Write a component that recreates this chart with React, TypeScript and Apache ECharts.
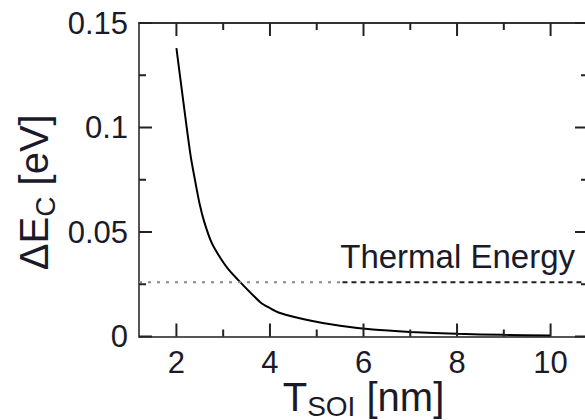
import React, { useEffect, useRef } from "react";
import * as echarts from "echarts";

const xMin = 1.2;
const xMax = 10.8;
const yMin = 0;
const yMax = 0.15;
const majorXTicks = [2, 4, 6, 8, 10];
const minorXTicks = [3, 5, 7, 9];
const majorYTicks = [0, 0.05, 0.1, 0.15];
const minorYTicks = [0.025, 0.075, 0.125];
const tsoi = [2.0, 2.15, 2.3, 2.4, 2.5, 2.6, 2.75, 2.9, 3.1, 3.4, 3.8, 4.0, 4.2, 4.8, 5.5, 6.2, 7.0, 8.0, 9.0, 10.0];
const deltaEc = [0.138, 0.112, 0.087, 0.0745, 0.063, 0.0545, 0.045, 0.039, 0.0325, 0.0252, 0.0163, 0.0136, 0.0114, 0.0079, 0.0051, 0.0033, 0.0022, 0.0013, 0.0008, 0.0005];
const thermalEnergy = 0.026;
const thermalSplitX = 5.55;
const thermalLabel = "Thermal Energy";

const FONT = "Liberation Sans, Arial, sans-serif";
const AXIS_COLOR = "#555";
const TICK_COLOR = "#222";
const TEXT_COLOR = "#1a1a2a";

export default function App() {
  const ref = useRef<HTMLDivElement>(null);
  useEffect(() => {
    if (!ref.current) return;
    const chart = echarts.init(ref.current, undefined, { renderer: "svg" });
    const yBase = (position: string, showLabel: boolean) => ({
      type: "value",
      min: yMin,
      max: yMax,
      interval: 0.05,
      position,
      splitLine: { show: false },
      axisLine: { show: true, onZero: false, lineStyle: { color: AXIS_COLOR, width: 2 } },
      axisTick: { show: false },
      axisLabel: showLabel
        ? { show: true, margin: 11, fontSize: 31, fontFamily: FONT, color: TEXT_COLOR }
        : { show: false },
    });
    const style = { stroke: TICK_COLOR, lineWidth: 2 };
    const xTickSeries = (values: number[], len: number) => ({
      type: "custom",
      xAxisIndex: 0,
      yAxisIndex: 0,
      clip: false,
      silent: true,
      z: 10,
      data: values.map((v) => [v, yMin]),
      renderItem: (_params: any, api: any) => {
        const v = api.value(0);
        const b = api.coord([v, yMin]);
        const t = api.coord([v, yMax]);
        return {
          type: "group",
          children: [
            { type: "line", shape: { x1: b[0], y1: b[1], x2: b[0], y2: b[1] - len }, style },
            { type: "line", shape: { x1: t[0], y1: t[1], x2: t[0], y2: t[1] + len }, style },
          ],
        };
      },
    });
    const yTickSeries = (values: number[], len: number) => ({
      type: "custom",
      xAxisIndex: 0,
      yAxisIndex: 0,
      clip: false,
      silent: true,
      z: 10,
      data: values.map((v) => [xMin, v]),
      renderItem: (_params: any, api: any) => {
        const v = api.value(1);
        const l = api.coord([xMin, v]);
        const r = api.coord([xMax, v]);
        return {
          type: "group",
          children: [
            { type: "line", shape: { x1: l[0], y1: l[1], x2: l[0] + len, y2: l[1] }, style },
            { type: "line", shape: { x1: r[0], y1: r[1], x2: r[0] - len, y2: r[1] }, style },
          ],
        };
      },
    });
    const option: any = {
      animation: false,
      grid: { left: 139, top: 23, width: 449, height: 313.5, outerBoundsMode: "none", containLabel: false },
      xAxis: [
        {
          type: "value",
          min: xMin,
          max: xMax,
          position: "bottom",
          splitLine: { show: false },
          axisLine: { show: true, onZero: false, lineStyle: { color: AXIS_COLOR, width: 2 } },
          axisTick: { show: false },
          axisLabel: { show: true, customValues: majorXTicks, margin: 10, fontSize: 31, fontFamily: FONT, color: TEXT_COLOR },
          name: "T{sub|SOI} [nm]",
          nameLocation: "middle",
          nameGap: 36,
          nameMoveOverlap: false,
          nameTextStyle: {
            fontSize: 40,
            fontFamily: FONT,
            color: TEXT_COLOR,
            verticalAlign: "top",
            rich: {
              sub: { fontSize: 28, fontFamily: FONT, color: TEXT_COLOR, padding: [20, 0, 0, 0] },
            },
          },
        },
        {
          type: "value",
          min: xMin,
          max: xMax,
          position: "top",
          splitLine: { show: false },
          axisLine: { show: true, onZero: false, lineStyle: { color: "#333", width: 2 } },
          axisTick: { show: false },
          axisLabel: { show: false },
        },
      ],
      yAxis: [
        {
          ...yBase("left", true),
          name: "ΔE{sub|C} [eV]",
          nameLocation: "middle",
          nameGap: 80,
          nameMoveOverlap: false,
          nameTextStyle: {
            fontSize: 40,
            fontFamily: FONT,
            color: TEXT_COLOR,
            padding: [0, 25, 0, 0],
            rich: {
              sub: { fontSize: 28, fontFamily: FONT, color: TEXT_COLOR, padding: [22, 0, 0, 0] },
            },
          },
        },
        yBase("right", false),
      ],
      series: [
        {
          type: "line",
          data: tsoi.map((t, i) => [t, deltaEc[i]]),
          smooth: 0.3,
          showSymbol: false,
          lineStyle: { color: "#000", width: 2 },
        },
        {
          type: "line",
          data: [[xMin, thermalEnergy], [thermalSplitX, thermalEnergy]],
          showSymbol: false,
          lineStyle: { color: "#888", width: 2, type: [3, 6] },
        },
        {
          type: "line",
          data: [[thermalSplitX, thermalEnergy], [xMax, thermalEnergy]],
          showSymbol: false,
          lineStyle: { color: "#222", width: 2, type: [5, 4] },
        },
        xTickSeries(majorXTicks, 13),
        xTickSeries(minorXTicks, 7),
        yTickSeries(majorYTicks, 13),
        yTickSeries(minorYTicks, 7),
      ],
      graphic: [
        {
          type: "text",
          right: 10,
          top: 240,
          style: { text: thermalLabel, fontSize: 33, fontFamily: FONT, fill: TEXT_COLOR },
        },
      ],
    };
    chart.setOption(option);
    return () => chart.dispose();
  }, []);
  return <div ref={ref} style={{ width: 585, height: 420, position: "absolute", left: 0, top: 0 }} />;
}
